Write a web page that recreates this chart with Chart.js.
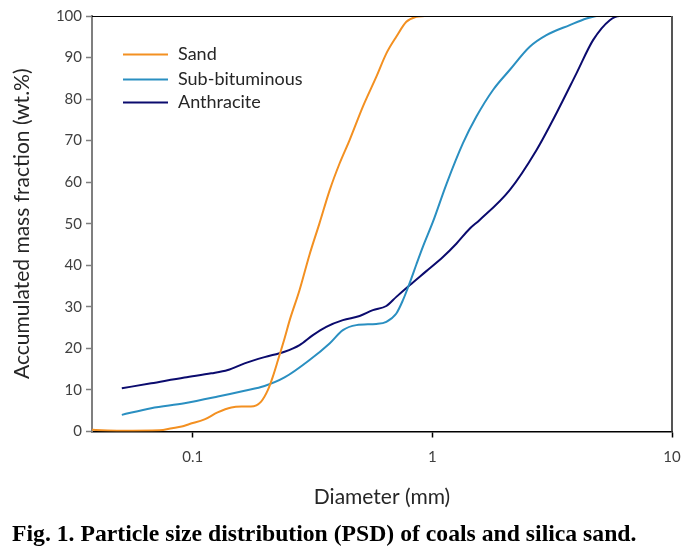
<!DOCTYPE html>
<html>
<head>
<meta charset="utf-8">
<script src="https://cdn.jsdelivr.net/npm/chart.js@4.4.1/dist/chart.umd.min.js"></script>
<style>
  html, body { margin: 0; padding: 0; background: #fff; }
  #wrap { position: relative; width: 699px; height: 553px; }
  #c { position: absolute; left: 0; top: 0; }
  #caption { position: absolute; left: 12px; top: 521px; font: bold 23.7px "Liberation Serif", "Times New Roman", serif; line-height: 24px; color: #000; white-space: nowrap; }
</style>
</head>
<body>
<div id="wrap">
  <canvas id="c" width="699" height="553"></canvas>
  <div id="caption">Fig. 1. Particle size distribution (PSD) of coals and silica sand.</div>
</div>
<script>
// ---- data ----
const seriesNames = ["Sand", "Sub-bituminous", "Anthracite"];

const sandD   = [0.038, 0.05, 0.0727, 0.082, 0.09, 0.097, 0.112, 0.127, 0.145, 0.160, 0.175, 0.193, 0.206, 0.216, 0.227, 0.242, 0.254, 0.279, 0.307, 0.338, 0.373, 0.41, 0.452, 0.513, 0.584, 0.643, 0.707, 0.779, 0.857, 0.929];
const sandPct = [0.4,   0.2,  0.3,    0.8,   1.2,  1.8,   2.9,   4.6,   5.8,   6.0,   6.0,   7.2,   10.0,  13.2,  17.2,  22.5,  26.8,  34.0,  42.5,  50.1,  58.1,  64.5, 70.2,  78.2,  85.4,  91.0,  95.0,  98.6,  99.8,  100];

const subD    = [0.0506, 0.0671, 0.0924, 0.1273, 0.1646, 0.1994, 0.2416, 0.3073, 0.3725, 0.4233, 0.4817, 0.5837, 0.6426, 0.7074, 0.7538, 0.8038, 0.8574, 0.9136, 1.006, 1.144, 1.342, 1.527, 1.791, 2.102, 2.549, 2.992, 3.743, 4.396, 4.839];
const subPct  = [4.0,    5.6,    6.8,    8.4,    9.8,    10.95,  13.0,   17.2,   21.2,   24.4,   25.6,   25.9,   26.4,   28.4,   31.6,   35.7,   40.2,   44.5,   50.5,  59.5,  69.4,  75.8,  82.2,  87.0,  92.6,  95.4,  97.8,  99.4,  100];

const anthD   = [0.0506, 0.0671, 0.0924, 0.1195, 0.1401, 0.1646, 0.1994, 0.2416, 0.2792, 0.3174, 0.3609, 0.4233, 0.4971, 0.5649, 0.6426, 0.7074, 0.8038, 0.9439, 1.107, 1.259, 1.431, 1.576, 2.102, 2.718, 3.294, 3.993, 4.684, 5.5,  6.053, 6.667];
const anthPct = [10.4,   11.6,   13.0,   14.0,   14.8,   16.4,   17.9,   19.2,   20.8,   23.2,   25.2,   26.8,   27.8,   29.2,   30.2,   32.4,   35.2,   38.6,   42.0,  45.2,  48.8,  50.9,  58.1,  67.7,  76.6,  86.2,  94.2,  99.0, 100,   100];

const xTicks = [0.1, 1, 10];
const yTicks = [0, 10, 20, 30, 40, 50, 60, 70, 80, 90, 100];
const xTitle = "Diameter (mm)";
const yTitle = "Accumulated mass fraction (wt.%)";

// ---- build ----
const colors = ["#F39021", "#2A8FC1", "#0B0B6E"];
const toPts = (xs, ys) => xs.map((x, i) => ({ x: x, y: ys[i] }));
const seriesData = [toPts(sandD, sandPct), toPts(subD, subPct), toPts(anthD, anthPct)];

const datasets = seriesNames.map((n, i) => ({
  label: n,
  data: seriesData[i],
  borderColor: colors[i],
  backgroundColor: colors[i],
  borderWidth: 2,
  pointRadius: 0,
  fill: false,
  cubicInterpolationMode: 'monotone'
}));

const FONT = "Lato, 'Open Sans', sans-serif";

const framePlugin = {
  id: 'frame',
  afterDatasetsDraw(chart) {
    const { ctx, chartArea: a } = chart;
    ctx.save();
    ctx.strokeStyle = '#000';
    ctx.lineWidth = 1;
    ctx.beginPath();
    ctx.moveTo(a.left, a.top + 0.5);
    ctx.lineTo(a.right, a.top + 0.5);
    ctx.stroke();
    ctx.strokeStyle = '#555';
    ctx.lineWidth = 2;
    ctx.beginPath();
    ctx.moveTo(a.right, a.top);
    ctx.lineTo(a.right, a.bottom);
    ctx.stroke();
    ctx.restore();
  }
};

const legendPlugin = {
  id: 'insideLegend',
  afterDraw(chart) {
    const { ctx } = chart;
    const rows = [54.5, 79.5, 102.5];
    ctx.save();
    ctx.font = "18px " + FONT;
    ctx.textBaseline = 'middle';
    ctx.textAlign = 'left';
    chart.data.datasets.forEach((ds, i) => {
      const y = rows[i];
      ctx.strokeStyle = ds.borderColor;
      ctx.lineWidth = 2;
      ctx.beginPath();
      ctx.moveTo(123, y);
      ctx.lineTo(168, y);
      ctx.stroke();
      ctx.fillStyle = '#262626';
      ctx.fillText(ds.label, 178, y);
    });
    ctx.restore();
  }
};

new Chart(document.getElementById('c'), {
  type: 'line',
  data: { datasets },
  plugins: [framePlugin, legendPlugin],
  options: {
    responsive: false,
    animation: false,
    layout: { padding: { left: 0, right: 27, top: 16, bottom: 0 } },
    plugins: { legend: { display: false }, tooltip: { enabled: false } },
    scales: {
      x: {
        type: 'logarithmic',
        min: 0.038,
        max: 10,
        afterBuildTicks(scale) { scale.ticks = xTicks.map(v => ({ value: v })); },
        afterFit(scale) { scale.height = 553 - 431.5; },
        ticks: {
          autoSkip: false,
          maxRotation: 0,
          padding: 11,
          color: '#404040',
          font: { family: FONT, size: 15 },
          callback: (v) => String(v)
        },
        grid: { drawOnChartArea: false, drawTicks: true, tickLength: 6, tickColor: '#000', tickWidth: 1.5 },
        border: { display: true, color: '#000', width: 1.5 },
        title: { display: true, text: xTitle, color: '#262626', font: { family: FONT, size: 21, lineHeight: 1.2 }, padding: { top: 0, bottom: 43 } }
      },
      y: {
        type: 'linear',
        min: 0,
        max: 100,
        afterBuildTicks(scale) { scale.ticks = yTicks.map(v => ({ value: v })); },
        afterFit(scale) { scale.width = 92; },
        ticks: {
          padding: 4,
          color: '#404040',
          font: { family: FONT, size: 15 }
        },
        grid: { drawOnChartArea: false, drawTicks: true, tickLength: 6, tickColor: '#7f7f7f', tickWidth: 1.5 },
        border: { display: true, color: '#7f7f7f', width: 2 },
        title: { display: true, text: yTitle, color: '#262626', font: { family: FONT, size: 21, lineHeight: 1.2 }, padding: { top: 10, bottom: 0 } }
      }
    }
  }
});
</script>
</body>
</html>
